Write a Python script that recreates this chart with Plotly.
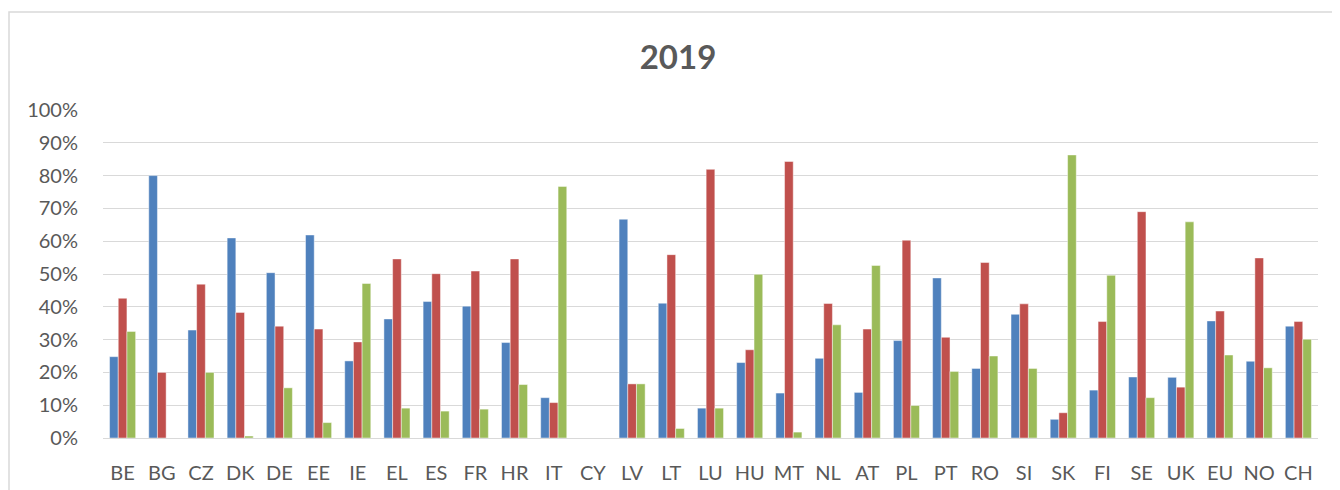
import plotly.graph_objects as go

categories = ["BE", "BG", "CZ", "DK", "DE", "EE", "IE", "EL", "ES", "FR", "HR", "IT", "CY",
              "LV", "LT", "LU", "HU", "MT", "NL", "AT", "PL", "PT", "RO", "SI", "SK", "FI",
              "SE", "UK", "EU", "NO", "CH"]

series_blue = [24.8, 80.0, 32.9, 61.0, 50.4, 61.9, 23.5, 36.3, 41.6, 40.2, 29.1, 12.3, None,
               66.7, 41.1, 9.1, 23.0, 13.7, 24.3, 13.9, 29.7, 48.8, 21.2, 37.7, 5.7, 14.6,
               18.6, 18.5, 35.7, 23.4, 34.1]
series_red = [42.6, 20.0, 46.9, 38.3, 34.1, 33.2, 29.3, 54.6, 50.1, 50.9, 54.6, 10.8, None,
              16.5, 55.9, 81.9, 26.9, 84.3, 41.0, 33.2, 60.3, 30.7, 53.5, 40.9, 7.7, 35.5,
              69.0, 15.5, 38.7, 54.9, 35.5]
series_green = [32.5, 0.0, 20.0, 0.6, 15.3, 4.7, 47.1, 9.1, 8.2, 8.8, 16.3, 76.7, None,
                16.5, 2.9, 9.1, 49.9, 1.8, 34.5, 52.6, 9.9, 20.3, 25.0, 21.2, 86.3, 49.6,
                12.3, 65.9, 25.3, 21.4, 30.1]

y_tickvals = [0, 0.1, 0.2, 0.3, 0.4, 0.5, 0.6, 0.7, 0.8, 0.9, 1.0]
y_ticktext = ["0%", "10%", "20%", "30%", "40%", "50%", "60%", "70%", "80%", "90%", "100%"]

colors = ["#4F81BD", "#C0504D", "#9BBB59"]


def frac(vals):
    return [None if v is None else v / 100.0 for v in vals]


fig = go.Figure()
for name, vals, col in [("Series 1", series_blue, colors[0]),
                        ("Series 2", series_red, colors[1]),
                        ("Series 3", series_green, colors[2])]:
    fig.add_trace(go.Bar(
        x=categories, y=frac(vals), name=name,
        marker=dict(color=col, line=dict(color="rgba(255,255,255,0.45)", width=1)),
        hovertemplate="%{x}: %{y:.1%}<extra></extra>",
    ))

# page has an 8px body margin; figure origin sits at page (8, 8)
OFF = 8
W, H = 1340, 490
L = 103 - OFF
T = 110 - OFF
R = W - (1318 - OFF)
B = H - (438 - OFF)
pw = W - L - R
ph = H - T - B

fig.update_layout(
    width=W, height=H,
    margin=dict(l=L, r=R, t=T, b=B, autoexpand=False),
    paper_bgcolor="white", plot_bgcolor="white",
    barmode="group", bargap=0.335, bargroupgap=0,
    showlegend=False,
    font=dict(family="Lato, Open Sans, sans-serif", color="#595959"),
    title=dict(text="<b>2019</b>", x=(678 - OFF) / W, xref="container",
               y=1 - (57 - OFF) / H, yref="container", xanchor="center", yanchor="middle",
               font=dict(size=33, color="#595959", family="Lato, Open Sans, sans-serif")),
    xaxis=dict(showgrid=False, showline=True, linecolor="#D9D9D9", linewidth=1,
               ticks="outside", ticklen=17, tickcolor="rgba(0,0,0,0)",
               tickfont=dict(size=20, color="#595959"), fixedrange=True),
    yaxis=dict(range=[0, 1.0], tickvals=y_tickvals, ticktext=y_ticktext,
               showgrid=True, gridcolor="#D9D9D9", gridwidth=1,
               zeroline=False, showline=False,
               ticks="outside", ticklen=20, tickcolor="rgba(0,0,0,0)",
               tickfont=dict(size=20, color="#595959"), fixedrange=True),
    shapes=[dict(type="rect", xref="paper", yref="paper",
                 x0=(9 - OFF - L) / pw, x1=(W + 10 - L) / pw,
                 y0=-(B + 20) / ph, y1=1 + (T - (12 - OFF)) / ph,
                 line=dict(color="#D9D9D9", width=1.5), fillcolor="rgba(0,0,0,0)",
                 layer="below")],
)

fig.write_html("out.html")
